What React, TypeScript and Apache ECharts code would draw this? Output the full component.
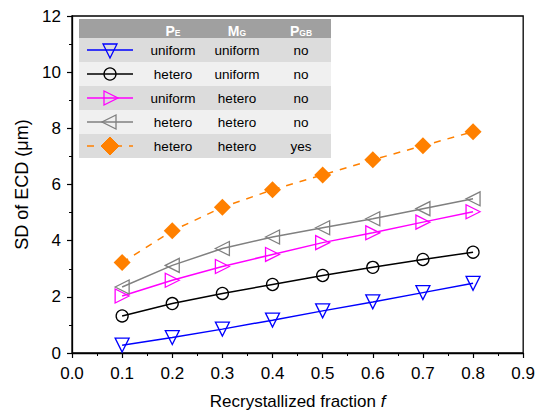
import React, { useEffect, useRef } from "react";
import * as echarts from "echarts";

const fractions = [0.1, 0.2, 0.3, 0.4, 0.5, 0.6, 0.7, 0.8];
const uniformUniformNo = [0.28, 0.55, 0.85, 1.17, 1.5, 1.82, 2.15, 2.48];
const heteroUniformNo = [1.32, 1.76, 2.12, 2.44, 2.76, 3.05, 3.33, 3.59];
const uniformHeteroNo = [2.03, 2.59, 3.08, 3.51, 3.93, 4.28, 4.66, 5.03];
const heteroHeteroNo = [2.35, 3.12, 3.72, 4.13, 4.46, 4.78, 5.14, 5.49];
const heteroHeteroYes = [3.22, 4.35, 5.19, 5.81, 6.34, 6.88, 7.38, 7.88];

const tableHeader = ["P|E", "M|G", "P|GB"];
const tableRows = [
  ["uniform", "uniform", "no"],
  ["hetero", "uniform", "no"],
  ["uniform", "hetero", "no"],
  ["hetero", "hetero", "no"],
  ["hetero", "hetero", "yes"],
];

const FONT = "'Liberation Sans', Arial, sans-serif";

const seriesDefs = [
  { name: "uu-no", data: uniformUniformNo, color: "#0000ff", symbol: "triangle", rotate: 180, size: 14, dashed: false, filled: false },
  { name: "hu-no", data: heteroUniformNo, color: "#000000", symbol: "circle", rotate: 0, size: 12, dashed: false, filled: false },
  { name: "uh-no", data: uniformHeteroNo, color: "#ff00ff", symbol: "triangle", rotate: -90, size: 14, dashed: false, filled: false },
  { name: "hh-no", data: heteroHeteroNo, color: "#808080", symbol: "triangle", rotate: 90, size: 14, dashed: false, filled: false },
  { name: "hh-yes", data: heteroHeteroYes, color: "#ff8000", symbol: "diamond", rotate: 0, size: 17, dashed: true, filled: true },
];

export default function App() {
  const ref = useRef<HTMLDivElement>(null);
  useEffect(() => {
    document.body.style.margin = "0";
    if (!ref.current) return;
    const chart = echarts.init(ref.current, undefined, { renderer: "svg" });

    const tx = 79, tw = 252, headerTop = 19, headerH = 19, rowH = 24;
    const colX = [173, 237, 301];
    const markerX = 110;
    const graphics: any[] = [];
    graphics.push({ type: "rect", shape: { x: tx, y: headerTop, width: tw, height: headerH }, style: { fill: "#a0a0a0" }, z: 100 });
    tableHeader.forEach((h, i) => {
      const [main, sub] = h.split("|");
      graphics.push({
        type: "text", x: colX[i], y: headerTop + headerH / 2 + 1, z: 102,
        style: {
          text: `{m|${main}}{s|${sub}}`, align: "center", verticalAlign: "middle",
          rich: {
            m: { fill: "#ffffff", fontSize: 14, fontWeight: "bold", fontFamily: FONT, lineHeight: 16, verticalAlign: "bottom" },
            s: { fill: "#ffffff", fontSize: 8.5, fontWeight: "bold", fontFamily: FONT, lineHeight: 10, verticalAlign: "bottom" },
          },
        },
      });
    });
    tableRows.forEach((row, r) => {
      const y0 = headerTop + headerH + r * rowH;
      const cy = y0 + rowH / 2;
      graphics.push({ type: "rect", shape: { x: tx, y: y0, width: tw, height: rowH }, style: { fill: r % 2 === 0 ? "#dcdcdc" : "#f0f0f0" }, z: 100 });
      row.forEach((t, c) => {
        graphics.push({ type: "text", x: colX[c], y: cy, z: 102, style: { text: t, align: "center", verticalAlign: "middle", fill: "#000", fontSize: 13.5, fontFamily: FONT } });
      });
      const s = seriesDefs[r];
      graphics.push({
        type: "line", z: 101,
        shape: { x1: 87, y1: cy, x2: 133, y2: cy },
        style: { stroke: s.color, lineWidth: 1.5, lineDash: s.dashed ? [7, 7] : undefined },
      });
      const h = 7;
      if (s.symbol === "circle") {
        graphics.push({ type: "circle", z: 102, shape: { cx: markerX, cy, r: 6 }, style: { fill: "transparent", stroke: s.color, lineWidth: 1.3 } });
      } else if (s.symbol === "diamond") {
        graphics.push({ type: "polygon", z: 102, shape: { points: [[markerX, cy - 9], [markerX + 9, cy], [markerX, cy + 9], [markerX - 9, cy]] }, style: { fill: s.color, stroke: s.color } });
      } else {
        let pts: number[][] = [];
        if (s.rotate === 180) pts = [[markerX - h, cy - 6], [markerX + h, cy - 6], [markerX, cy + 8]];
        else if (s.rotate === -90) pts = [[markerX - 6, cy - h], [markerX - 6, cy + h], [markerX + 8, cy]];
        else pts = [[markerX + 6, cy - h], [markerX + 6, cy + h], [markerX - 8, cy]];
        graphics.push({ type: "polygon", z: 102, shape: { points: pts }, style: { fill: "transparent", stroke: s.color, lineWidth: 1.3 } });
      }
    });

    chart.setOption({
      animation: false,
      backgroundColor: "#ffffff",
      grid: { left: 72, right: 13, top: 16, bottom: 61, show: true, borderColor: "#000", borderWidth: 1.3, backgroundColor: "transparent" },
      xAxis: {
        type: "value", min: 0, max: 0.9, interval: 0.1,
        name: "Recrystallized fraction {i|f}", nameLocation: "middle", nameGap: 40,
        nameTextStyle: { fontSize: 17, fontFamily: FONT, color: "#000", rich: { i: { fontStyle: "italic", fontSize: 17, fontFamily: FONT, color: "#000" } } },
        axisLine: { lineStyle: { color: "#000", width: 1.3 } },
        axisTick: { show: true, length: 5, inside: false, lineStyle: { color: "#000", width: 1.2 } },
        minorTick: { show: true, splitNumber: 2, length: 3, lineStyle: { color: "#000", width: 1 } },
        axisLabel: { fontSize: 17, fontFamily: FONT, color: "#000", margin: 12, formatter: (v: number) => v.toFixed(1) },
        splitLine: { show: false },
      },
      yAxis: {
        type: "value", min: 0, max: 12, interval: 2,
        name: "SD of ECD (μm)", nameLocation: "middle", nameGap: 36,
        nameTextStyle: { fontSize: 18, fontFamily: FONT, color: "#000" },
        axisLine: { show: true, lineStyle: { color: "#000", width: 1.3 } },
        axisTick: { show: true, length: 5, inside: false, lineStyle: { color: "#000", width: 1.2 } },
        minorTick: { show: true, splitNumber: 2, length: 3, lineStyle: { color: "#000", width: 1 } },
        axisLabel: { fontSize: 17, fontFamily: FONT, color: "#000", margin: 11 },
        splitLine: { show: false },
      },
      series: seriesDefs.map((s) => ({
        name: s.name,
        type: "line",
        data: fractions.map((f, i) => [f, s.data[i]]),
        symbol: s.symbol,
        symbolSize: s.size,
        symbolRotate: s.rotate,
        showAllSymbol: true,
        lineStyle: { color: s.color, width: 1.5, type: s.dashed ? [7, 7] : "solid" },
        itemStyle: { color: s.filled ? s.color : "transparent", borderColor: s.color, borderWidth: s.filled ? 0 : 1.3 },
        z: 3,
      })),
      graphic: graphics,
    });
    return () => chart.dispose();
  }, []);
  return <div ref={ref} style={{ width: 538, height: 415 }} />;
}
